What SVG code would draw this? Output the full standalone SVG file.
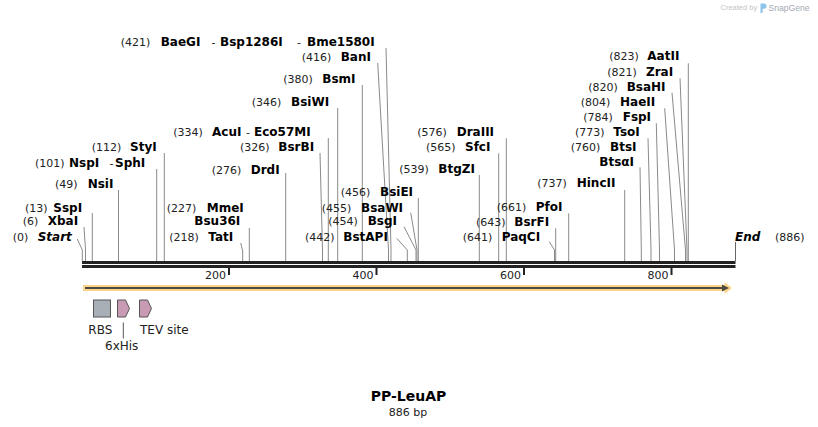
<svg xmlns="http://www.w3.org/2000/svg" width="818" height="427" viewBox="0 0 818 427">
<style>
text{font-family:"DejaVu Sans",Verdana,sans-serif;fill:#111}
.n{font-size:11px;fill:#222}
.e{font-size:12px;font-weight:bold;fill:#000}
.i{font-size:12px;font-weight:bold;font-style:italic;fill:#000}
.l{stroke:#8a8a8a;stroke-width:1;fill:none}
.t{font-size:11px;fill:#222}
.f{font-size:12px;fill:#222}
.ft{stroke:#555;stroke-width:1}
</style>
<rect width="818" height="427" fill="#fff"/>
<g id="logo">
<text x="720.5" y="10" style="font-family:'Liberation Sans',Arial,sans-serif;font-size:7.5px;fill:#c4c4c4">Created by</text>
<path d="M760.5 3.5h3.5a2.6 2.6 0 0 1 0 5.2h-1.4v4.3h-2.1z" fill="#8cc4ea"/>
<text x="768.5" y="11" style="font-family:'Liberation Sans',Arial,sans-serif;font-size:8.6px;fill:#a4abb3">SnapGene</text>
</g>
<g id="connectors">
<path class="l" d="M77.3 239L82.3 250V261"/>
<path class="l" d="M84 227L85.5 250V261"/>
<path class="l" d="M92.3 213V261"/>
<path class="l" d="M118.5 190V261"/>
<path class="l" d="M156.7 169V261"/>
<path class="l" d="M164.3 153V261"/>
<path class="l" d="M240.7 243L242.7 251V261"/>
<path class="l" d="M249.3 228V261"/>
<path class="l" d="M285.7 173V261"/>
<path class="l" d="M320 153L322.5 250V261"/>
<path class="l" d="M328.3 138V261"/>
<path class="l" d="M337.7 108V261"/>
<path class="l" d="M362.3 85V261"/>
<path class="l" d="M377.7 63L388.5 250V261"/>
<path class="l" d="M386 48L391 250V261"/>
<path class="l" d="M396.7 238.3L407.3 250V261"/>
<path class="l" d="M404 226.7L416 250V261"/>
<path class="l" d="M410.7 212.7L417 250V261"/>
<path class="l" d="M418.3 198V261"/>
<path class="l" d="M479.3 175V261"/>
<path class="l" d="M498.7 153.3V261"/>
<path class="l" d="M506.3 138.3V261"/>
<path class="l" d="M549.3 241.7L554.5 250V261"/>
<path class="l" d="M555.7 228.3V261"/>
<path class="l" d="M568.7 213.3V261"/>
<path class="l" d="M624.7 190V261"/>
<path class="l" d="M640 167.3L641.3 250V261"/>
<path class="l" d="M648 138.3L651 250V261"/>
<path class="l" d="M656.3 123.3L659.5 250V261"/>
<path class="l" d="M664.7 108.3L674.5 250V261"/>
<path class="l" d="M672 92.7L685.5 250V261"/>
<path class="l" d="M680 78.3L687 250V261"/>
<path class="l" d="M688.3 63.3V261"/>
<path d="M735.5 242V261" stroke="#666" stroke-width="1"/>
</g>
<g id="sequence">
<rect x="82" y="261" width="653.5" height="3" fill="#222"/>
<rect x="82" y="265" width="653.5" height="3" fill="#222"/>
<rect x="228" y="268" width="2" height="7" fill="#222"/>
<rect x="375.5" y="268" width="2" height="7" fill="#222"/>
<rect x="523" y="268" width="2" height="7" fill="#222"/>
<rect x="670.5" y="268" width="2" height="7" fill="#222"/>
<text class="t" x="226" y="278.5" text-anchor="end">200</text>
<text class="t" x="373.5" y="278.5" text-anchor="end">400</text>
<text class="t" x="521" y="278.5" text-anchor="end">600</text>
<text class="t" x="668.5" y="278.5" text-anchor="end">800</text>
</g>
<g id="orf">
<path d="M83 285H724.5V282L732 288L724.5 294V291H83Z" fill="#fcd48c"/>
<path d="M85 288H723" stroke="#4f4a40" stroke-width="2"/>
<path d="M722 284.5L729 288L722 291.5Z" fill="#4f4a40"/>
</g>
<g id="RBS">
<rect class="ft" x="93.5" y="300" width="17" height="17" fill="#a9afb7"/>
<text class="f" x="88.3" y="333.5">RBS</text>
</g>
<g id="his">
<path class="ft" d="M117.5 300H125.5L129.5 308.5L125.5 317H117.5Z" fill="#c99ab4"/>
<path d="M123.3 322.5V338.5" stroke="#555" stroke-width="1"/>
<text class="f" x="105" y="349.5">6xHis</text>
</g>
<g id="TEV">
<path class="ft" d="M139.5 300H147.5L151.5 308.5L147.5 317H139.5Z" fill="#c99ab4"/>
<text class="f" x="140" y="333.5">TEV site</text>
</g>
<g id="title">
<text x="408.5" y="401" text-anchor="middle" style="font-size:14px;font-weight:bold;fill:#000">PP-LeuAP</text>
<text x="408" y="415.5" text-anchor="middle" style="font-size:11px;fill:#222">886 bp</text>
</g>
<g id="e-BaeGI"><text class="n" x="120.7" y="46.3">(421)</text><text class="e" x="160.7" y="46.3">BaeGI</text><text class="n" x="211.5" y="46.3">-</text><text class="e" x="220" y="46.3">Bsp1286I</text><text class="n" x="297" y="46.3">-</text><text class="e" x="307" y="46.3">Bme1580I</text></g>
<g id="e-BanI"><text class="n" x="301.7" y="60.7">(416)</text><text class="e" x="340.7" y="60.7">BanI</text></g>
<g id="e-BsmI"><text class="n" x="283.3" y="83.3">(380)</text><text class="e" x="322.3" y="83.3">BsmI</text></g>
<g id="e-BsiWI"><text class="n" x="251.7" y="105.7">(346)</text><text class="e" x="291" y="105.7">BsiWI</text></g>
<g id="e-AcuI"><text class="n" x="173.3" y="135.7">(334)</text><text class="e" x="212" y="135.7">AcuI</text><text class="n" x="246" y="135.7">-</text><text class="e" x="254" y="135.7">Eco57MI</text></g>
<g id="e-StyI"><text class="n" x="91.7" y="150.7">(112)</text><text class="e" x="130" y="150.7">StyI</text></g>
<g id="e-BsrBI"><text class="n" x="240" y="150.7">(326)</text><text class="e" x="278.3" y="150.7">BsrBI</text></g>
<g id="e-NspI"><text class="n" x="35" y="166.7">(101)</text><text class="e" x="69" y="166.7">NspI</text><text class="n" x="109.5" y="166.7">-</text><text class="e" x="115" y="166.7">SphI</text></g>
<g id="e-DrdI"><text class="n" x="211.7" y="174">(276)</text><text class="e" x="250.7" y="174">DrdI</text></g>
<g id="e-NsiI"><text class="n" x="55" y="188">(49)</text><text class="e" x="87.7" y="188">NsiI</text></g>
<g id="e-BsiEI"><text class="n" x="340.7" y="195.7">(456)</text><text class="e" x="380" y="195.7">BsiEI</text></g>
<g id="e-SspI"><text class="n" x="25" y="211.7">(13)</text><text class="e" x="53.3" y="211.7">SspI</text></g>
<g id="e-MmeI"><text class="n" x="166.7" y="211.7">(227)</text><text class="e" x="206.7" y="211.7">MmeI</text></g>
<g id="e-BsaWI"><text class="n" x="321.7" y="211.7">(455)</text><text class="e" x="361" y="211.7">BsaWI</text></g>
<g id="e-XbaI"><text class="n" x="22.7" y="225">(6)</text><text class="e" x="47.7" y="225">XbaI</text></g>
<g id="e-Bsu36I"><text class="e" x="194.3" y="225">Bsu36I</text></g>
<g id="e-BsgI"><text class="n" x="328.3" y="225">(454)</text><text class="e" x="367.7" y="225">BsgI</text></g>
<g id="e-Start"><text class="n" x="12.7" y="240.7">(0)</text><text class="i" x="37.7" y="240.7">Start</text></g>
<g id="e-TatI"><text class="n" x="169.3" y="240.7">(218)</text><text class="e" x="208.3" y="240.7">TatI</text></g>
<g id="e-BstAPI"><text class="n" x="305" y="240.7">(442)</text><text class="e" x="343.3" y="240.7">BstAPI</text></g>
<g id="e-DraIII"><text class="n" x="417.3" y="135.7">(576)</text><text class="e" x="456.7" y="135.7">DraIII</text></g>
<g id="e-SfcI"><text class="n" x="426" y="151.3">(565)</text><text class="e" x="465" y="151.3">SfcI</text></g>
<g id="e-BtgZI"><text class="n" x="399.3" y="173.3">(539)</text><text class="e" x="438.3" y="173.3">BtgZI</text></g>
<g id="e-PfoI"><text class="n" x="496.7" y="211.3">(661)</text><text class="e" x="535.7" y="211.3">PfoI</text></g>
<g id="e-BsrFI"><text class="n" x="476" y="225.7">(643)</text><text class="e" x="514.3" y="225.7">BsrFI</text></g>
<g id="e-PaqCI"><text class="n" x="462.7" y="240.7">(641)</text><text class="e" x="501.7" y="240.7">PaqCI</text></g>
<g id="e-HincII"><text class="n" x="537.3" y="187.3">(737)</text><text class="e" x="576.7" y="187.3">HincII</text></g>
<g id="e-BtsaI"><text class="e" x="599.3" y="165.7">BtsαI</text></g>
<g id="e-BtsI"><text class="n" x="570.7" y="151.3">(760)</text><text class="e" x="610" y="151.3">BtsI</text></g>
<g id="e-TsoI"><text class="n" x="575" y="135.7">(773)</text><text class="e" x="613.3" y="135.7">TsoI</text></g>
<g id="e-FspI"><text class="n" x="583.3" y="120.7">(784)</text><text class="e" x="622.7" y="120.7">FspI</text></g>
<g id="e-HaeII"><text class="n" x="580.7" y="105.7">(804)</text><text class="e" x="620" y="105.7">HaeII</text></g>
<g id="e-BsaHI"><text class="n" x="588.3" y="90.7">(820)</text><text class="e" x="626.7" y="90.7">BsaHI</text></g>
<g id="e-ZraI"><text class="n" x="607.3" y="76">(821)</text><text class="e" x="646" y="76">ZraI</text></g>
<g id="e-AatII"><text class="n" x="609.3" y="60">(823)</text><text class="e" x="647.3" y="60">AatII</text></g>
<g id="e-End"><text class="i" x="735" y="240.7">End</text><text class="n" x="775" y="240.7">(886)</text></g>
</svg>
